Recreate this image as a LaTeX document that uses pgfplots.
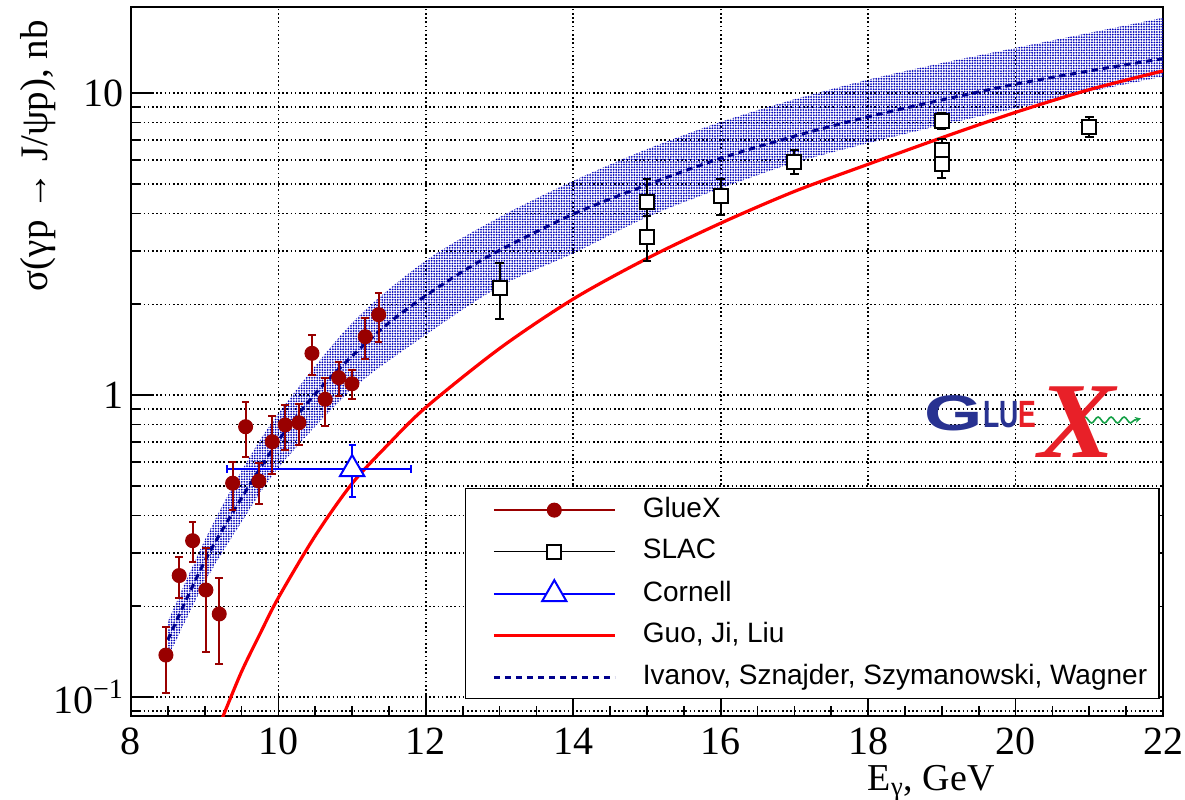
\documentclass[border=0pt]{standalone}
\usepackage{fontspec}
\setmainfont{Liberation Serif}
\newfontfamily\sansf{Liberation Sans}
\usepackage{graphicx}
\usepackage{pgfplots}
\usepackage{pgfplotstable}
\pgfplotsset{compat=1.18}
\usepgfplotslibrary{fillbetween}
\usetikzlibrary{patterns.meta,decorations.pathmorphing,arrows.meta}

\definecolor{gxred}{RGB}{153,0,0}
\definecolor{ivblue}{RGB}{0,0,140}
\definecolor{bandblue}{RGB}{0,0,185}
\definecolor{logoblue}{RGB}{40,50,145}
\definecolor{logored}{RGB}{232,32,40}
\definecolor{logogreen}{RGB}{20,160,70}

\pgfplotsset{
  lineleg/.style={legend image code/.code={\path (0pt,0pt); \draw[##1] (7.3pt,0pt) -- (67.8pt,0pt);}},
  markleg/.style={legend image code/.code={\path (0pt,0pt); \draw[#1, line width=0.7pt] (7.3pt,0pt) -- (67.8pt,0pt); \draw[##1] plot coordinates {(37.5pt,0pt)};}},
}

\pgfplotstableread{
x y yp ym
8.474 0.138 0.0334 0.0345
8.654 0.253 0.039 0.040
8.836 0.330 0.050 0.050
9.016 0.2266 0.0863 0.0856
9.197 0.1888 0.0602 0.0602
9.379 0.5116 0.0894 0.0946
9.555 0.787 0.161 0.162
9.735 0.520 0.078 0.0845
9.916 0.702 0.154 0.153
10.092 0.798 0.131 0.139
10.278 0.811 0.125 0.125
10.455 1.377 0.207 0.210
10.635 0.970 0.168 0.177
10.817 1.144 0.142 0.149
10.997 1.092 0.121 0.122
11.178 1.563 0.236 0.241
11.36 1.849 0.338 0.351
}\gluex

\pgfplotstableread{
x y yp ym
13.0 2.27 0.465 0.481
15.0 4.365 0.845 0.845
15.0 3.35 0.565 0.565
16.0 4.57 0.62 0.61
17.0 5.93 0.56 0.54
19.0 8.08 0.51 0.48
19.0 6.51 0.53 0.62
19.0 5.82 0.59 0.59
21.0 7.75 0.62 0.60
}\slac

\pgfplotstableread{
x y xp xm yp ym
11.0 0.570 0.80 1.70 0.115 0.111
}\cornell

\begin{document}
\begin{tikzpicture}
\begin{axis}[
  at={(0pt,0pt)}, anchor=south west,
  scale only axis, width=516pt, height=354.5pt,
  xmin=8, xmax=22, ymode=log, ymin=0.08671, ymax=19.31,
  xtick={8,10,12,14,16,18,20,22}, minor x tick num=3,
  ytick={0.1,1,10}, yticklabels={10\textsuperscript{−1},1,10},
  minor ytick={0.09,0.2,0.3,0.4,0.5,0.6,0.7,0.8,0.9,2,3,4,5,6,7,8,9},
  tick pos=left, tick align=inside,
  major tick length=11pt, minor tick length=5pt,
  every tick/.style={black, line width=0.9pt},
  axis line style={line width=1.1pt},
  xmajorgrids, ymajorgrids, yminorgrids,
  major grid style={black, line width=0.8pt, dash pattern=on 0.8pt off 1.3pt},
  minor grid style={black, line width=0.8pt, dash pattern=on 0.8pt off 1.3pt},
  /pgf/number format/assume math mode=true,
  tick label style={font=\fontsize{20}{24}\selectfont},
  xticklabel style={yshift=-2.5pt},
  xlabel={E\textsubscript{γ}, GeV},
  ylabel={σ(γp → J/ψp), nb},
  xlabel style={font=\fontsize{19}{23}\selectfont, at={(axis description cs:0.8372,-0.1044)}, anchor=base east, inner sep=0pt},
  ylabel style={font=\fontsize{19.5}{23}\selectfont, at={(axis description cs:-0.0901,0.9817)}, anchor=east, inner sep=0pt},
  legend style={at={(0.3236,0.3216)}, anchor=north west, draw=black, line width=0.75pt, fill=white,
    inner xsep=6pt, inner ysep=4.2pt, row sep=7.75pt, column sep=13.2pt,
    font=\sansf\fontsize{14}{16}\selectfont,
    nodes={inner sep=0pt, text height=10pt, text depth=3pt}},
  legend cell align=left,
  reverse legend,
]

% Ivanov et al. band
\addplot[name path=up, draw=none, forget plot, smooth] coordinates {
(8.5,0.178) (9.0,0.331) (9.5,0.562) (10,0.871) (11,1.738) (12,2.793) (13,3.890)
(14,5.129) (15,6.531) (16,8.035) (17,9.550) (18,11.09) (19,12.59) (20,14.13) (21,15.85) (22,17.78)};
\addplot[name path=lo, draw=none, forget plot, smooth] coordinates {
(8.5,0.135) (9.0,0.240) (9.5,0.380) (10,0.575) (11,1.047) (12,1.585) (13,2.291)
(14,2.951) (15,3.890) (16,4.842) (17,5.888) (18,6.839) (19,7.852) (20,8.913) (21,10.12) (22,11.35)};
\addplot[draw=none, pattern={Dots[distance=1.3pt,radius=0.5pt]}, pattern color=bandblue, forget plot]
  fill between[of=up and lo];

% Ivanov, Sznajder, Szymanowski, Wagner
\addplot[ivblue, line width=1.5pt, dash pattern=on 3.2pt off 2.3pt, smooth, no markers, lineleg] coordinates {
(8.5,0.155) (9.0,0.282) (9.5,0.457) (10.0,0.708) (10.5,1.012) (11.0,1.349) (11.5,1.738)
(12.0,2.138) (12.5,2.570) (13.0,3.020) (14.0,3.981) (15.0,4.977) (16.0,6.095) (17.0,7.211)
(18.0,8.356) (19.0,9.506) (20.0,10.72) (21.0,11.86) (22.0,13.03)};
\addlegendentry{Ivanov, Sznajder, Szymanowski, Wagner}

% Guo, Ji, Liu
\addplot[red, line width=1.6pt, smooth, no markers, lineleg] coordinates {
(9.20,0.0809) (9.25,0.0867) (9.5,0.1216) (9.75,0.1622) (10.0,0.2138) (10.5,0.3428) (11.0,0.5105)
(11.5,0.6918) (12.0,0.912) (13.0,1.429) (14.0,2.084) (15.0,2.838) (16.0,3.715) (17.0,4.732)
(18.0,5.821) (19.0,7.129) (20.0,8.650) (21.0,10.28) (22.0,11.86)};
\addlegendentry{Guo, Ji, Liu}

% Cornell
\addplot[only marks, blue, mark=triangle*, mark size=7pt, mark options={fill=white, line width=1pt},
  markleg=blue,
  error bars/.cd, x dir=both, x explicit, y dir=both, y explicit,
  error bar style={line width=1pt, blue}, error mark options={rotate=90, blue, line width=1pt, mark size=1.8pt}]
  table[x=x, y=y, x error plus=xp, x error minus=xm, y error plus=yp, y error minus=ym] {\cornell};
\addlegendentry{Cornell}

% SLAC
\addplot[only marks, black, mark=square*, mark size=3.5pt, mark options={fill=white, line width=1pt},
  markleg=black,
  error bars/.cd, y dir=both, y explicit,
  error bar style={line width=1pt, black}, error mark options={rotate=90, black, line width=1pt, mark size=2.2pt}]
  table[x=x, y=y, y error plus=yp, y error minus=ym] {\slac};
\addlegendentry{SLAC}

% GlueX
\addplot[only marks, gxred, mark=*, mark size=3.5pt, mark options={fill=gxred, line width=0.5pt},
  markleg=gxred,
  error bars/.cd, y dir=both, y explicit,
  error bar style={line width=1pt, gxred}, error mark options={rotate=90, gxred, line width=1pt, mark size=1.9pt}]
  table[x=x, y=y, y error plus=yp, y error minus=ym] {\gluex};
\addlegendentry{GlueX}
\end{axis}

% GlueX logo
\draw[logogreen, line width=0.8pt, decorate, decoration={snake, amplitude=1.5pt, segment length=6.5pt}] (475pt,148pt) -- (502pt,148pt);
\draw[logogreen, line width=0.8pt, -{Stealth[length=3pt,width=3pt]}] (502pt,148pt) -- (505pt,148.8pt);
\node[inner sep=0pt, text=logoblue, font=\sansf\bfseries\fontsize{25}{25}\selectfont] at (411.5pt,151.5pt) {\scalebox{1.5}[1]{G}};
\node[inner sep=0pt, font=\sansf\bfseries\fontsize{19}{19}\selectfont] at (439.5pt,150.5pt) {\scalebox{0.7}[1]{\textcolor{logoblue}{LU}\textcolor{logored}{E}}};
\node[inner sep=0pt, text=logored, font=\bfseries\itshape\fontsize{54}{54}\selectfont] at (473pt,147pt) {\scalebox{1.07}[1]{X}};

\pgfresetboundingbox
\path (-65.5pt,-41.5pt) rectangle (527pt,358pt);
\end{tikzpicture}
\end{document}
